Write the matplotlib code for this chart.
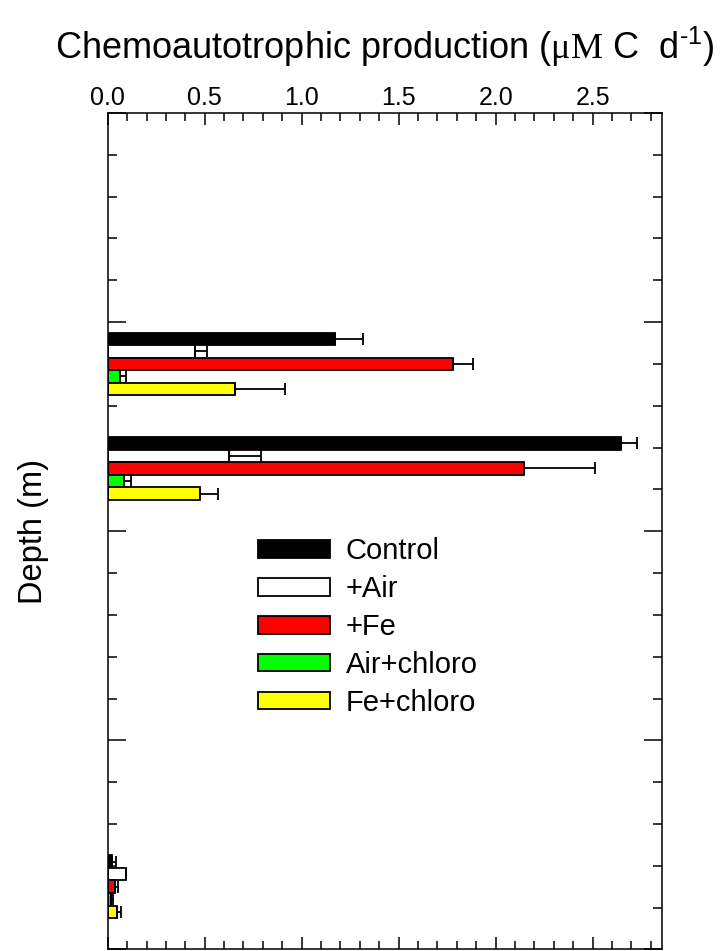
import matplotlib
matplotlib.use('Agg')
import matplotlib.pyplot as plt
from matplotlib.ticker import MultipleLocator
import numpy as np

plt.rcParams['font.family'] = ['Liberation Sans', 'DejaVu Sans']
plt.rcParams['mathtext.fontset'] = 'custom'
plt.rcParams['mathtext.rm'] = 'Liberation Sans'
plt.rcParams['mathtext.sf'] = 'Liberation Serif'

# depth of each sampling level (m)
depths = [60, 85, 185]

treatments = ['Control', '+Air', '+Fe', 'Air+chloro', 'Fe+chloro']
colors = ['black', 'white', 'red', '#00ff00', 'yellow']

# production (uM C/d) and one-sided errors per level
control = [1.17, 2.645, 0.02]
control_err = [0.144, 0.086, 0.025]
air = [0.451, 0.626, 0.094]
air_err = [0.06, 0.165, 0.0]
fe = [1.778, 2.146, 0.038]
fe_err = [0.103, 0.366, 0.017]
air_chloro = [0.064, 0.086, 0.017]
air_chloro_err = [0.03, 0.034, 0.009]
fe_chloro = [0.654, 0.476, 0.046]
fe_chloro_err = [0.258, 0.09, 0.023]

values = [control, air, fe, air_chloro, fe_chloro]
errors = [control_err, air_err, fe_err, air_chloro_err, fe_chloro_err]

fig = plt.figure(figsize=(7.22, 9.51), dpi=100)
ax = fig.add_axes([0.1492, 0.0016, 0.7683, 0.8796])

bar_h = 3.0
offsets = [-6, -3, 0, 3, 6]
lw = 1.3
for name, col, off, vals, errs in zip(treatments, colors, offsets, values, errors):
    y = np.array(depths) + off
    ax.barh(y, vals, height=bar_h, color=col, edgecolor='black',
            linewidth=lw, label=name, zorder=2)
    ax.errorbar(vals, y, xerr=[np.zeros(len(errs)), errs], fmt='none',
                ecolor='black', elinewidth=lw, capsize=4.6, capthick=lw,
                zorder=3)

ax.set_xlim(0, 2.86)
ax.set_ylim(200, 0)

ax.xaxis.set_major_locator(MultipleLocator(0.5))
ax.xaxis.set_minor_locator(MultipleLocator(0.1))
ax.yaxis.set_major_locator(MultipleLocator(50))
ax.yaxis.set_minor_locator(MultipleLocator(10))

ax.xaxis.set_ticks_position('both')
ax.xaxis.set_label_position('top')
ax.tick_params(axis='x', which='both', direction='in', labeltop=True,
               labelbottom=False, labelsize=18, pad=2.5, width=1.1)
ax.tick_params(axis='x', which='major', length=8.5)
ax.tick_params(axis='x', which='minor', length=6)
ax.tick_params(axis='y', which='both', direction='in', left=True, right=True,
               labelleft=False, width=1.1)
ax.tick_params(axis='y', which='major', length=12.7)
ax.tick_params(axis='y', which='minor', length=6.7)
ax.set_xticklabels([f'{t:.1f}' for t in ax.get_xticks()])

for sp in ax.spines.values():
    sp.set_linewidth(1.1)

ax.set_xlabel(r'Chemoautotrophic production ($\mathsf{\mu M}$ C  d$^{\text{-1}}$)',
              fontsize=26, labelpad=19)
ax.set_ylabel('Depth (m)', fontsize=23.5, labelpad=42)

ax.legend(loc='upper left', bbox_to_anchor=(0.358, 0.435),
          bbox_transform=fig.transFigure, frameon=False, fontsize=21,
          handlelength=2.45, handleheight=0.54, handletextpad=0.55,
          labelspacing=0.34, borderpad=0, borderaxespad=0)

fig.savefig('out.png', dpi=100)
